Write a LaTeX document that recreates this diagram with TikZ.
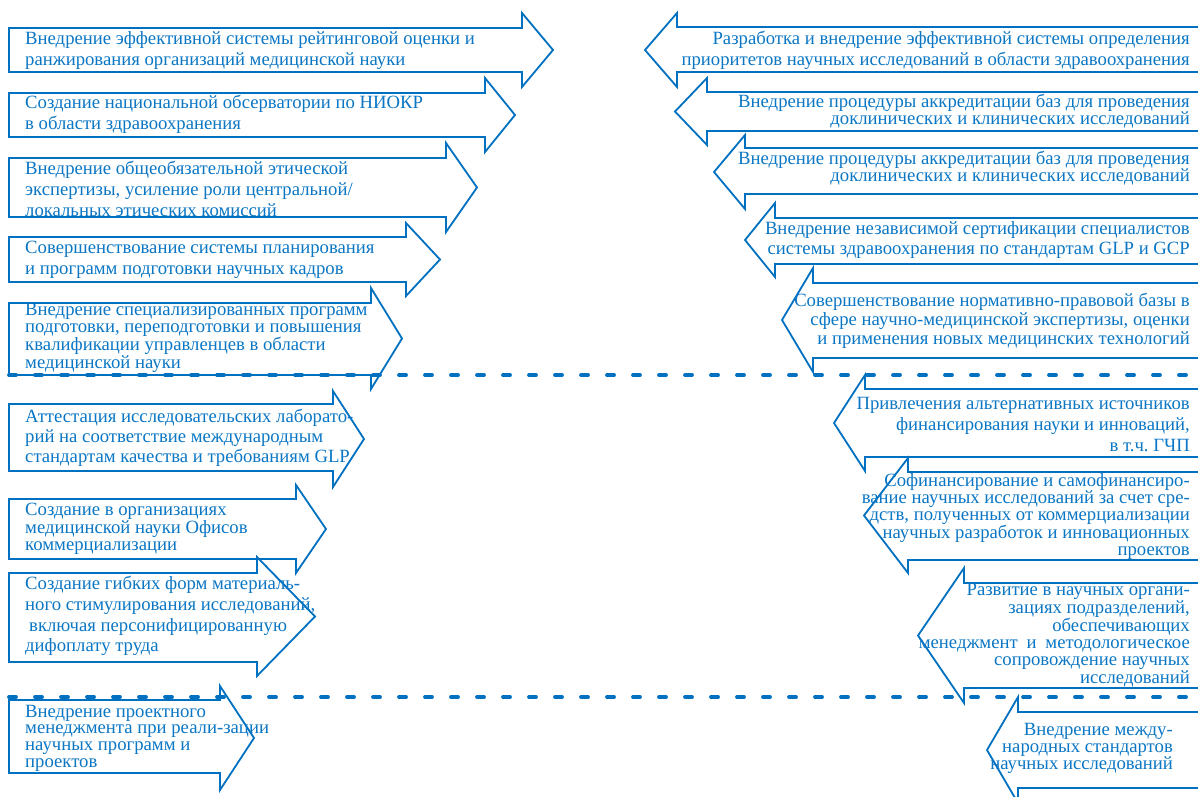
\documentclass[tikz,border=0pt]{standalone}
\usepackage{fontspec}
\setmainfont{Liberation Serif}
\frenchspacing
\definecolor{arrblue}{RGB}{0,112,192}
\definecolor{txtblue}{RGB}{10,118,196}
\tikzset{
  arr/.style={draw=arrblue, line width=1.8pt, line join=miter},
  dashline/.style={draw=arrblue, line width=3.8pt, line cap=round, dash pattern=on 7pt off 19pt},
  ltxt/.style={text=txtblue, align=left, inner sep=0pt, anchor=west, font=\fontsize{18.7}{21}\selectfont},
  ltxtt/.style={ltxt, font=\fontsize{18.7}{16.7}\selectfont},
  rtxt/.style={text=txtblue, align=right, inner sep=0pt, anchor=east, font=\fontsize{18.7}{21}\selectfont},
  rtxtt/.style={rtxt, font=\fontsize{18.7}{16.8}\selectfont},
}
% right-pointing arrow: xl, ytop, ybot, xbase, headtop, headbot, xtip
\newcommand\rightarr[7]{\draw[arr] (#1,#2) -- (#4,#2) -- (#4,#5) -- (#7,{(#5+#6)/2}) -- (#4,#6) -- (#4,#3) -- (#1,#3) -- cycle;}
% left-pointing arrow: xbase, ytop, ybot, headtop, headbot, xtip
\newcommand\leftarr[6]{\draw[arr] (1225,#2) -- (#1,#2) -- (#1,#4) -- (#6,{(#4+#5)/2}) -- (#1,#5) -- (#1,#3) -- (1225,#3);}
\begin{document}
\begin{tikzpicture}[x=1pt,y=-1pt]
\useasboundingbox (0,0) rectangle (1198,796);
\clip (0,0) rectangle (1198,796);
% dashed separators
\draw[dashline] (9,375) -- (1198,375);
\draw[dashline] (9,697) -- (1198,697);
% left column arrows
\rightarr{9}{28}{72}{522}{13}{87}{553}
\rightarr{9}{93}{137}{485}{78}{152}{515}
\rightarr{9}{158}{217}{446}{143}{232}{477}
\rightarr{9}{237}{282}{406}{223}{296}{440}
\rightarr{9}{303}{375}{371}{288}{389}{402}
\rightarr{9}{404}{471}{333}{391}{487}{364}
\rightarr{9}{499}{559}{296}{485}{573}{326}
\rightarr{9}{573}{662}{257}{557}{676}{315}
\rightarr{9}{700}{773}{220}{686}{790}{254}
% right column arrows
\leftarr{677}{27}{72}{13}{87}{645}
\leftarr{707}{92}{131}{78}{145}{675}
\leftarr{745}{148}{194}{135}{209}{714}
\leftarr{775}{218}{264}{203}{277}{745}
\leftarr{813}{283}{358}{268}{372}{782}
\leftarr{865}{389}{457}{375}{471}{834}
\leftarr{908}{472}{560}{458}{573}{864}
\leftarr{964}{583}{688}{568}{703}{918}
\leftarr{1018}{712}{788}{697}{803}{987}
% left texts
\node[ltxt] (l1) at (25,51) {Внедрение эффективной системы рейтинговой оценки и\\ранжирования организаций медицинской науки};
\node[ltxt] (l2) at (25,114) {Создание национальной обсерватории по НИОКР\\в области здравоохранения};
\node[ltxt] (l3) at (25,189) {Внедрение общеобязательной этической\\экспертизы, усиление роли центральной/\\локальных этических комиссий};
\node[ltxt] (l4) at (25,259.5) {Совершенствование системы планирования\\и программ подготовки научных кадров};
\node[ltxtt] (l5) at (25,338) {Внедрение специализированных программ\\подготовки, переподготовки и повышения\\квалификации управленцев в области\\медицинской науки};
\node[ltxt, font=\fontsize{18.7}{20}\selectfont] (l6) at (25,438) {Аттестация исследовательских лаборато-\\рий на соответствие международным\\стандартам качества и требованиям GLP};
\node[ltxtt] (l7) at (25,528.5) {Создание в организациях\\медицинской науки Офисов\\коммерциализации};
\node[ltxt, font=\fontsize{18.7}{20.7}\selectfont] (l8) at (25,616) {Создание гибких форм материаль-\\ного стимулирования исследований,\\\hspace*{4pt}включая персонифицированную\\дифоплату труда};
\node[ltxtt] (l9) at (25,738) {Внедрение проектного\\менеджмента при реали-зации\\научных программ и\\проектов};
% right texts
\node[rtxt] (r1) at (1190,50.5) {Разработка и внедрение эффективной системы определения\\приоритетов научных исследований в области здравоохранения};
\node[rtxt, font=\fontsize{18.7}{17}\selectfont] (r2) at (1190,111.5) {Внедрение процедуры аккредитации баз для проведения\\доклинических и клинических исследований};
\node[rtxt, font=\fontsize{18.7}{17}\selectfont] (r3) at (1190,168.5) {Внедрение процедуры аккредитации баз для проведения\\доклинических и клинических исследований};
\node[rtxt, font=\fontsize{18.7}{20}\selectfont] (r4) at (1190,240) {Внедрение независимой сертификации специалистов\\системы здравоохранения по стандартам GLP и GCP};
\node[rtxt, font=\fontsize{18.7}{19}\selectfont] (r5) at (1190,321) {Совершенствование нормативно-правовой базы в\\сфере научно-медицинской экспертизы, оценки\\и применения новых медицинских технологий};
\node[rtxt] (r6) at (1190,424) {Привлечения альтернативных источников\\финансирования науки и инноваций,\\в т.ч. ГЧП};
\node[rtxtt] (r7) at (1190,516.5) {Софинансирование и самофинансиро-\\вание научных исследований за счет сре-\\дств, полученных от коммерциализации\\научных разработок и инновационных\\проектов};
\node[rtxtt] (r8) at (1190,635) {Развитие в научных органи-\\зациях подразделений,\\обеспечивающих\\\makebox[271pt][s]{менеджмент и методологическое}\\сопровождение научных\\исследований};
\node[rtxtt] (r9) at (1173,748.5) {Внедрение между-\\народных стандартов\\научных исследований};
\end{tikzpicture}
\end{document}
